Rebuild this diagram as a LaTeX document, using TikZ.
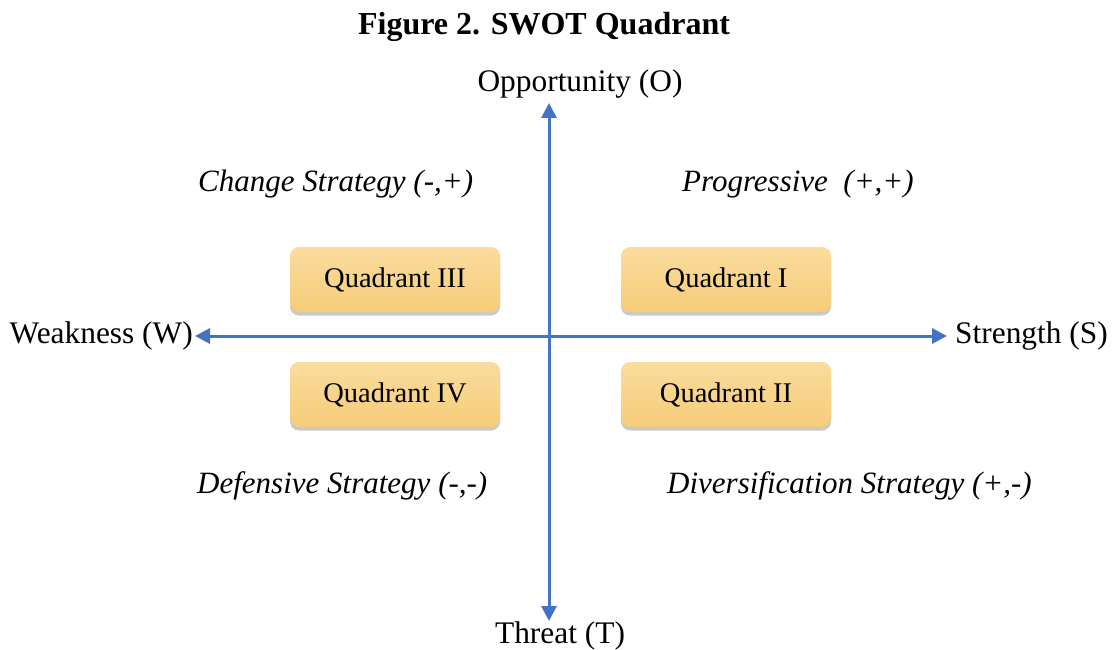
\documentclass[tikz,border=0pt]{standalone}
\usepackage{fontspec}
\setmainfont{Liberation Serif}
\usetikzlibrary{arrows.meta,shadows}
\definecolor{axisblue}{HTML}{4472C4}
\definecolor{boxtop}{HTML}{FADC9E}
\definecolor{boxbot}{HTML}{F6CC78}
\begin{document}
\begin{tikzpicture}[x=1pt,y=-1pt,
  axis/.style={draw=axisblue,line width=3pt,-{Triangle[length=15pt,width=15pt]}},
  lbl/.style={font=\fontsize{31.4}{36}\selectfont,inner sep=0pt},
  ilbl/.style={font=\fontsize{31}{36}\selectfont\itshape,inner sep=0pt},
  quad/.style={rounded corners=9pt,minimum width=210pt,minimum height=65pt,
    top color=boxtop,bottom color=boxbot,draw=none,
    drop shadow={shadow xshift=0pt,shadow yshift=-3.5pt,opacity=0.3,fill=black!70},
    font=\fontsize{28.5}{32}\selectfont,inner sep=0pt}]
\useasboundingbox (0,0) rectangle (1112,650);
\node[font=\fontsize{32}{36}\selectfont\bfseries,inner sep=0pt] (title) at (544,27) {Figure 2. SWOT Quadrant};
\coordinate (c) at (549,336);
\coordinate (top) at (549,103);
\coordinate (bot) at (549,621);
\coordinate (lft) at (195,336);
\coordinate (rgt) at (947,336);
\draw[axis] (c) -- (top);
\draw[axis] (c) -- (bot);
\draw[axis] (c) -- (lft);
\draw[axis] (c) -- (rgt);
\node[lbl] (O) at (580,84) {Opportunity (O)};
\node[lbl] (T) at (560,636) {Threat (T)};
\node[lbl,anchor=east] (W) at (193,336) {Weakness (W)};
\node[lbl,anchor=west] (S) at (955,336) {Strength (S)};
\node[ilbl,anchor=west] (cs) at (198,184) {Change Strategy (-,+)};
\node[ilbl,anchor=west] (pr) at (682,184) {Progressive\ \ (+,+)};
\node[ilbl,anchor=west] (ds) at (197,486) {Defensive Strategy (-,-)};
\node[ilbl,anchor=west] (dv) at (667,486) {Diversification Strategy (+,-)};
\node[quad] (q3) at (395,279.5) {Quadrant III};
\node[quad] (q1) at (726,279.5) {Quadrant I};
\node[quad] (q4) at (395,394.5) {Quadrant IV};
\node[quad] (q2) at (726,394.5) {Quadrant II};
\end{tikzpicture}
\end{document}
